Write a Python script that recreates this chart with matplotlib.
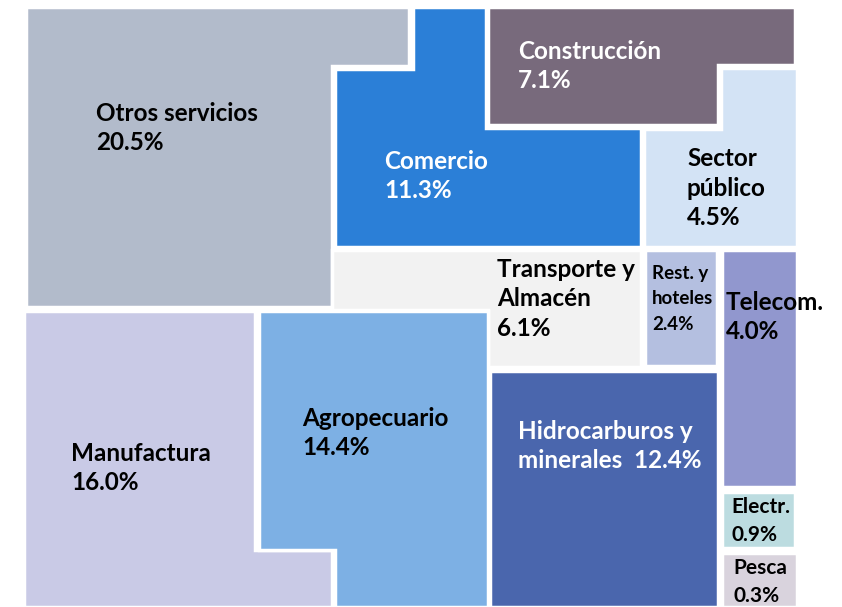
import matplotlib.pyplot as plt
from matplotlib.patches import Polygon

# =========================
# DATOS
# =========================
sectores = ["Otros servicios", "Comercio", "Construcción", "Sector\npúblico",
            "Transporte y\nAlmacén", "Rest. y\nhoteles", "Telecom.",
            "Hidrocarburos y\nminerales ", "Electr.", "Pesca",
            "Manufactura", "Agropecuario"]
porcentajes = [20.5, 11.3, 7.1, 4.5, 6.1, 2.4, 4.0, 12.4, 0.9, 0.3, 16.0, 14.4]
separador = ["\n", "\n", "\n", "\n", "\n", "\n", "\n", " ", "\n", "\n", "\n", "\n"]

# =========================
# ESTILO Y DISPOSICION (pixeles de la imagen)
# =========================
colores = ["#B2BBCB", "#2B7FD7", "#786A7C", "#D3E3F5", "#F2F2F2", "#B4BFE0",
           "#9197CE", "#4A66AD", "#BCDCE0", "#D9D3DD", "#C9CAE6", "#7DB0E4"]
color_texto = ["black", "white", "white", "black", "black", "black", "black",
               "white", "black", "black", "black", "black"]
tam_texto = [17.5, 17.5, 17.5, 17.5, 17.5, 13.5, 17.5, 17.5, 15, 15, 17.5, 17.5]
interlineado = [1.35, 1.35, 1.35, 1.35, 1.35, 1.6, 1.35, 1.35, 1.55, 1.55, 1.35, 1.35]

formas = [
    [(26, 7), (409, 7), (409, 66), (332, 66), (332, 307), (26, 307)],
    [(413, 7), (486, 7), (486, 128), (641, 128), (641, 247), (335, 247), (335, 69), (413, 69)],
    [(488, 7), (795, 7), (795, 65), (718, 65), (718, 125), (488, 125)],
    [(721, 68), (797, 68), (797, 247), (644, 247), (644, 129), (721, 129)],
    [(332, 250), (641, 250), (641, 367), (488, 367), (488, 310), (332, 310)],
    [(645, 250), (717, 250), (717, 366), (645, 366)],
    [(722, 250), (797, 250), (797, 487), (722, 487)],
    [(490, 371), (718, 371), (718, 607), (490, 607)],
    [(722, 492), (795, 492), (795, 548), (722, 548)],
    [(722, 553), (797, 553), (797, 607), (722, 607)],
    [(24, 311), (255, 311), (255, 550), (332, 550), (332, 607), (24, 607)],
    [(259, 311), (488, 311), (488, 607), (335, 607), (335, 550), (259, 550)],
]
pos_texto = [(96, 128), (384, 176), (518, 66), (687, 188), (497, 299), (652, 299),
             (726, 317), (518, 446), (731, 521), (733, 582), (71, 468), (302, 433)]

plt.rcParams["font.family"] = ["Lato", "DejaVu Sans"]

fig = plt.figure(figsize=(8.42, 6.07), dpi=100)
ax = fig.add_axes([0, 0, 1, 1])
ax.set_xlim(0, 842)
ax.set_ylim(607, 0)
ax.axis("off")

for i, nombre in enumerate(sectores):
    ax.add_patch(Polygon(formas[i], closed=True, facecolor=colores[i],
                         edgecolor="white", linewidth=2.5))
    x, y = pos_texto[i]
    ax.text(x, y, f"{nombre}{separador[i]}{porcentajes[i]:.1f}%",
            color=color_texto[i], fontsize=tam_texto[i], fontweight="bold",
            ha="left", va="center", linespacing=interlineado[i])

fig.savefig("out.png", dpi=100)
